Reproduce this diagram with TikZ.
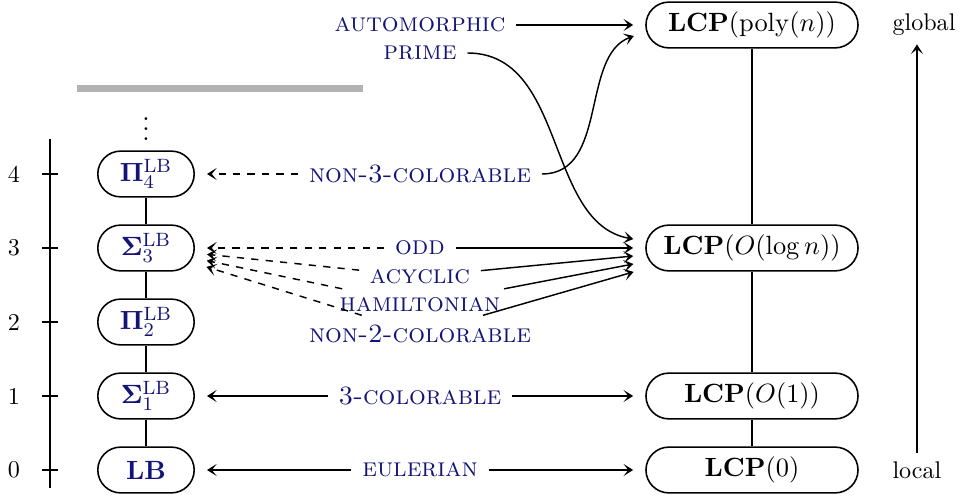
\documentclass[tikz,border=0pt]{standalone}
\usepackage{amsmath,amssymb}
\usetikzlibrary{calc,arrows.meta}
\definecolor{lbblue}{RGB}{20,20,120}
\begin{document}
\begin{tikzpicture}[x=0.415pt,y=0.415pt,
  bigfont/.style={font=\fontsize{10.95}{13.6}\selectfont},
  lbnode/.style={draw, bigfont, rounded corners=9.5pt, minimum width=40pt, minimum height=19pt, inner sep=0pt, text=lbblue, line width=0.65pt},
  lcpnode/.style={draw, bigfont, rounded corners=9.5pt, minimum width=88pt, minimum height=19pt, inner sep=0pt, line width=0.65pt},
  lab/.style={text=lbblue, bigfont, inner sep=3.33pt},
  tip/.style={-{Stealth[length=4pt,width=5pt,inset=2pt]}},
  arr/.style={tip, shorten >=5pt, shorten <=1pt, line width=0.6pt},
  darr/.style={arr, dashed},
  conn/.style={line width=0.6pt},
]
\useasboundingbox (0,0) rectangle (961,500);

% left hierarchy
\node[lbnode] (lb)   at (146,30)  {\textbf{LB}};
\node[lbnode] (sig1) at (146,104) {$\mathbf{\Sigma}^{\mathrm{LB}}_1$};
\node[lbnode] (pi2)  at (146,178) {$\mathbf{\Pi}^{\mathrm{LB}}_2$};
\node[lbnode] (sig3) at (146,252) {$\mathbf{\Sigma}^{\mathrm{LB}}_3$};
\node[lbnode] (pi4)  at (146,326) {$\mathbf{\Pi}^{\mathrm{LB}}_4$};
\node[bigfont] (dots) at (146,378) {$\vdots$};
\draw[conn] (lb) -- (sig1) (sig1) -- (pi2) (pi2) -- (sig3) (sig3) -- (pi4);

% axis
\draw[conn] (50,12) -- (50,361);
\foreach \lev/\yy in {0/30,1/104,2/178,3/252,4/326}{
  \draw[conn] (42,\yy) -- (58,\yy);
  \node (n\lev) at (14,\yy) {\lev};
}

% grey bar
\draw[line width=2.9pt, black!30] (77,411.5) -- (363,411.5);

% right hierarchy
\node[lcpnode] (lcp0)   at (752,30)  {$\mathbf{LCP}(0)$};
\node[lcpnode] (lcp1)   at (752,104) {$\mathbf{LCP}(O(1))$};
\node[lcpnode] (lcplog) at (752,252) {$\mathbf{LCP}(O(\log n))$};
\node[lcpnode] (poly)   at (752,475) {$\mathbf{LCP}(\mathrm{poly}(n))$};
\draw[conn] (lcp0) -- (lcp1) (lcp1) -- (lcplog) (lcplog) -- (poly);

% local / global
\node[anchor=west] (local)  at (884,30)  {local};
\node[anchor=west] (global) at (884,475) {global};
\draw[tip, line width=0.6pt] (local.north) -- (local.north |- global.south);

% labels
\node[lab] (auto)  at (420,475)   {\textsc{automorphic}};
\node[lab] (prime) at (420,447)   {\textsc{prime}};
\node[lab] (non3)  at (420,326)   {\textsc{non-3-colorable}};
\node[lab] (odd)   at (420,252)   {\textsc{odd}};
\node[lab] (acyc)  at (420,223.5) {\textsc{acyclic}};
\node[lab] (ham)   at (420,195)   {\textsc{hamiltonian}};
\node[lab] (non2)  at (420,166.5) {\textsc{non-2-colorable}};
\node[lab] (col3)  at (420,104)   {\textsc{3-colorable}};
\node[lab] (eul)   at (420,30)    {\textsc{eulerian}};

% arrows
\draw[arr] (auto) -- (poly);
\draw[arr] (prime) to[out=0,in=170] ([yshift=1mm]lcplog.west);
\draw[arr] (non3) to[out=0,in=200] ([yshift=-1mm]poly.west);
\draw[darr] (non3) -- (pi4);
\draw[darr] (odd) -- (sig3);
\draw[arr] (odd) -- (lcplog);
\draw[darr] (acyc) -- (sig3);
\draw[arr] (acyc) -- ([yshift=-1mm]lcplog.west);
\draw[darr] (ham) -- (sig3);
\draw[arr] (ham) -- ([yshift=-2mm]lcplog.west);
\draw[darr] (non2) -- (sig3);
\draw[arr] (non2) -- ([yshift=-3mm]lcplog.west);
\draw[arr] (col3) -- (sig1);
\draw[arr] (col3) -- (lcp1);
\draw[arr] (eul) -- (lb);
\draw[arr] (eul) -- (lcp0);
\end{tikzpicture}
\end{document}
